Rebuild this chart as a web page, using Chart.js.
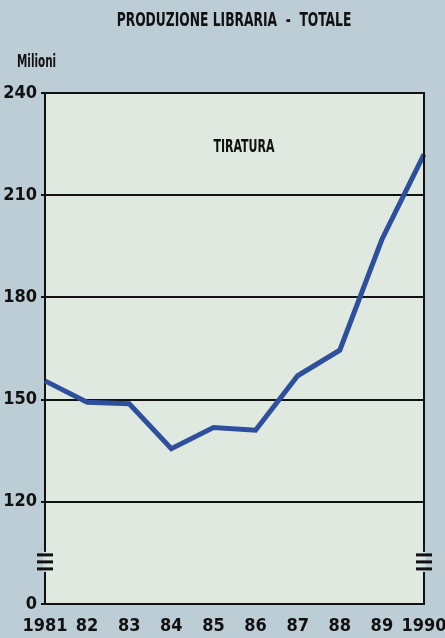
<!DOCTYPE html>
<html>
<head>
<meta charset="utf-8">
<script src="https://cdn.jsdelivr.net/npm/chart.js@4.4.0/dist/chart.umd.min.js"></script>
<style>
    html, body { margin: 0; padding: 0; background: #bccdd6; }
    #wrap { width: 445px; height: 638px; }
</style>
</head>
<body>
<div id="wrap"><canvas id="chart"></canvas></div>
<script>
// years on the x axis
const years = ['1981', '82', '83', '84', '85', '86', '87', '88', '89', '1990'];
// tiratura, milioni di copie
const tiratura = [155.5, 149.2, 148.8, 135.6, 141.8, 141.0, 157.0, 164.5, 197.0, 222.0];
// y ticks; the lowest one sits under the axis break and is shown as 0
const yTicks = [90, 120, 150, 180, 210, 240];
const yTickLabels = ['0', '120', '150', '180', '210', '240'];

const FONT = "'Liberation Sans Narrow', 'DejaVu Sans Condensed', 'Arial Narrow', sans-serif";

// narrow text: draw with a horizontal squeeze
function narrowText(ctx, text, x, y, size, squeeze, align) {
    ctx.save();
    ctx.font = 'bold ' + size + 'px ' + FONT;
    ctx.textAlign = align;
    ctx.textBaseline = 'middle';
    ctx.translate(x, y);
    ctx.scale(squeeze, 1);
    ctx.fillText(text, 0, 0);
    ctx.restore();
}

// title, unit label, series label and the axis break marks
const decorations = {
    id: 'decorations',
    beforeDraw(chart) {
        const { ctx, chartArea } = chart;
        ctx.save();
        ctx.fillStyle = '#dfe9e0';
        ctx.fillRect(chartArea.left, chartArea.top, chartArea.right - chartArea.left, chartArea.bottom - chartArea.top);
        ctx.restore();
    },
    afterDraw(chart) {
        const { ctx, chartArea } = chart;
        const y = chart.scales.y;
        ctx.save();
        ctx.fillStyle = '#111';
        narrowText(ctx, 'PRODUZIONE LIBRARIA  -  TOTALE', 234, 21, 19, 0.72, 'center');
        narrowText(ctx, 'Milioni', 17, 63, 17, 0.68, 'left');
        narrowText(ctx, 'TIRATURA', 244, 148, 17, 0.72, 'center');

        // frame top/right
        ctx.strokeStyle = '#111';
        ctx.lineWidth = 2;
        ctx.beginPath();
        ctx.moveTo(chartArea.left, chartArea.top);
        ctx.lineTo(chartArea.right, chartArea.top);
        ctx.lineTo(chartArea.right, chartArea.bottom);
        ctx.stroke();

        // axis break between 120 and 0
        const mid = (y.getPixelForValue(120) + y.getPixelForValue(90)) / 2 + 9;
        [chartArea.left, chartArea.right].forEach(x => {
            ctx.fillStyle = '#d6e1e1';
            ctx.fillRect(x - 2, mid - 10, 4, 20);
            ctx.fillStyle = '#111';
            [-7, 0, 7].forEach(d => ctx.fillRect(x - 8, mid + d - 1.5, 16, 3));
        });
        ctx.restore();
    }
};

new Chart(document.getElementById('chart'), {
    type: 'line',
    data: {
        labels: years,
        datasets: [{
            label: 'Tiratura',
            data: tiratura,
            borderColor: '#2e4f9c',
            borderWidth: 5,
            pointRadius: 0,
            tension: 0,
            fill: false
        }]
    },
    options: {
        responsive: true,
        maintainAspectRatio: false,
        animation: false,
        layout: { padding: { top: 93, right: 21, left: 0, bottom: 0 } },
        plugins: { legend: { display: false }, tooltip: { enabled: false } },
        scales: {
            x: {
                offset: false,
                grid: { display: false, drawTicks: true, tickLength: 6, tickColor: '#111', tickWidth: 2 },
                border: { color: '#111', width: 2 },
                ticks: {
                    color: '#111',
                    font: { family: FONT, size: 18, weight: 'bold' },
                    maxRotation: 0,
                    autoSkip: false,
                    padding: 6
                },
                afterFit(scale) {
                    scale.height = 34;
                    scale.paddingLeft = 0;
                    scale.paddingRight = 0;
                }
            },
            y: {
                min: 90,
                max: 240,
                afterBuildTicks(scale) { scale.ticks = yTicks.map(v => ({ value: v })); },
                grid: {
                    color: ctx => (ctx.tick && ctx.tick.value > 90 && ctx.tick.value < 240) ? '#111' : 'rgba(0,0,0,0)',
                    lineWidth: 2,
                    drawTicks: true,
                    tickLength: 4,
                    tickColor: '#111'
                },
                border: { color: '#111', width: 2 },
                ticks: {
                    color: '#111',
                    font: { family: FONT, size: 18, weight: 'bold' },
                    padding: 4,
                    callback: (v) => yTickLabels[yTicks.indexOf(v)]
                },
                afterFit(scale) { scale.width = 45; }
            }
        }
    },
    plugins: [decorations]
});
</script>
</body>
</html>
